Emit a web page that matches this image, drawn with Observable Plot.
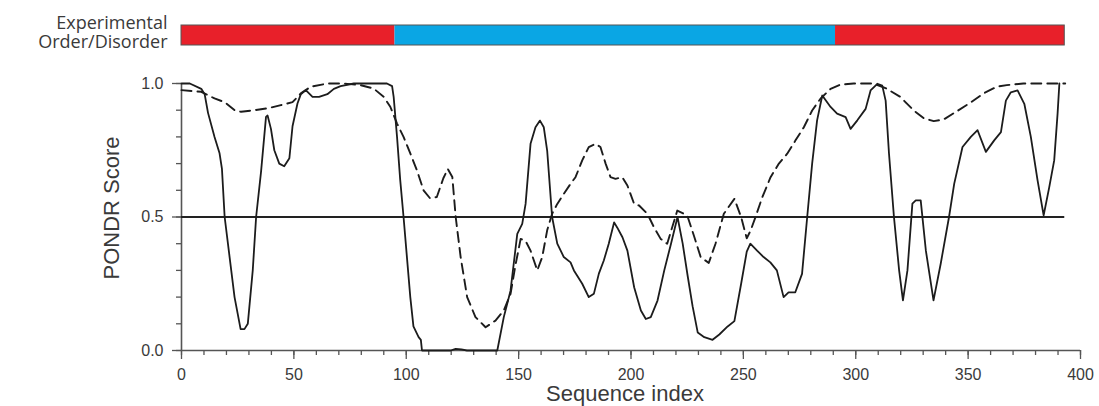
<!DOCTYPE html>
<html>
<head>
<meta charset="utf-8">
<script src="https://cdn.jsdelivr.net/npm/d3@7"></script>
<script src="https://cdn.jsdelivr.net/npm/@observablehq/plot@0.6"></script>
<style>
  body { margin: 0; background: #fff; }
  #chart svg { display: block; }
  g[aria-label="x-title"] text { letter-spacing: 1.2px; }
</style>
</head>
<body>
<div id="chart"></div>
<script>
// ---- Experimental order/disorder segments ----
const segStart = [0, 95, 291];
const segEnd   = [95, 291, 393];
const segState = ["Disorder", "Order", "Disorder"];
const stateLabel = "Experimental\nOrder/Disorder";

// ---- PONDR score series (solid line) ----
const solidIdx = [0,3.7,8.8,10.3,11.8,14.7,16.9,18,19.2,21.4,23.6,26.3,28,29.5,31.7,33.2,35.4,37.6,38.3,39.8,41.3,43.5,45.7,48,49.4,51.6,53.1,55.3,58.3,61.2,64.9,67.8,70.8,76.7,91.4,93.7,94.4,95.9,97.3,98.8,100.3,101.8,103.2,105.5,106.5,107,119.7,122,124.5,127,140.5,143.4,146.4,149.4,151.6,153.1,155.3,157.5,159.5,161.2,162.7,164.9,167.2,170.1,173.1,174.6,178.3,181.2,183.5,185.7,187.9,190.1,192.5,193.9,196.2,198.4,201.4,204.4,206.6,208.8,211.8,214.8,217.8,220.7,223,225.2,227.4,229.7,232.6,236.3,239.3,243,246,249,251.5,253.1,256.1,259,262,264.9,267.9,270.1,273.1,276.1,278.4,280.6,282.8,285.1,288.8,291.7,295.5,297.7,300.7,304.4,306.6,309.6,311.8,313.3,314.8,317,319.3,321,323,325.2,326.7,328.9,331.2,334.6,337.8,341.5,343.8,347.5,351.2,354.2,357.9,361.6,364.6,366.8,369,372,375,377.9,380.9,383.6,386.1,388.3,389.8,390.6];
const solidVal = [1.0,1.0,0.98,0.96,0.89,0.80,0.74,0.68,0.5,0.35,0.20,0.08,0.08,0.10,0.30,0.5,0.67,0.875,0.88,0.83,0.75,0.70,0.69,0.72,0.84,0.925,0.96,0.975,0.95,0.95,0.96,0.98,0.99,1.0,1.0,0.99,0.95,0.80,0.64,0.5,0.35,0.20,0.09,0.05,0.04,0.0,0.0,0.006,0.004,0.0,0.0,0.125,0.224,0.437,0.474,0.549,0.774,0.836,0.861,0.836,0.749,0.5,0.40,0.35,0.33,0.30,0.25,0.20,0.213,0.288,0.337,0.40,0.48,0.46,0.424,0.374,0.237,0.15,0.118,0.125,0.187,0.30,0.40,0.50,0.40,0.28,0.166,0.067,0.05,0.04,0.06,0.09,0.11,0.25,0.37,0.40,0.374,0.35,0.33,0.30,0.20,0.218,0.218,0.287,0.5,0.70,0.862,0.955,0.912,0.887,0.874,0.83,0.862,0.905,0.974,0.999,0.992,0.936,0.737,0.5,0.30,0.188,0.30,0.55,0.562,0.562,0.374,0.188,0.325,0.5,0.624,0.762,0.80,0.825,0.744,0.787,0.818,0.936,0.967,0.974,0.924,0.80,0.637,0.506,0.612,0.712,0.887,1.0];

// ---- PONDR score series (dashed line) ----
const dashIdx = [0,8.8,14.7,19.2,23.6,26.5,32.4,38.3,44.2,49.4,53.1,57.5,64.9,72.3,79.6,85.5,90,92.9,95.9,98.8,101.8,104.7,107.7,110.6,113.6,116.5,118.5,120.5,122,124.2,127.1,130.8,135.3,139.7,143.4,146.4,148.6,150.9,153.1,155.3,158.3,160.5,162.7,164.9,167.2,170.1,173.1,175.3,178.3,181.2,184.2,186.4,188.7,190.9,193.1,196.1,198.4,201.4,203.6,207.3,210.2,213.2,216.1,220.6,225,228,231,234.6,237.6,241.3,246,249,251.5,253.2,255.4,258.4,262.1,265.8,269.5,273.2,276.9,280.6,284.3,288.8,293.2,299.1,308,313.9,319.8,325.8,330.2,334.7,339.1,345,351,356.9,362.8,367.2,374.6,393.2];
const dashVal = [0.975,0.969,0.944,0.93,0.90,0.894,0.90,0.907,0.919,0.93,0.963,0.988,1.0,1.0,0.994,0.981,0.95,0.913,0.85,0.80,0.738,0.676,0.60,0.57,0.575,0.645,0.68,0.65,0.50,0.35,0.20,0.125,0.087,0.112,0.15,0.212,0.32,0.418,0.41,0.374,0.30,0.35,0.45,0.512,0.549,0.587,0.624,0.649,0.712,0.762,0.774,0.762,0.70,0.649,0.643,0.649,0.618,0.549,0.543,0.512,0.462,0.418,0.40,0.524,0.506,0.43,0.35,0.328,0.40,0.512,0.568,0.50,0.42,0.449,0.50,0.574,0.649,0.70,0.737,0.787,0.836,0.899,0.943,0.98,0.996,1.0,1.0,0.98,0.95,0.899,0.87,0.859,0.865,0.896,0.928,0.963,0.988,0.994,1.0,1.0];

// ---- axes ----
const threshold = [0.5];
const xMajor = [0, 50, 100, 150, 200, 250, 300, 350, 400];
const xMinor = d3.range(0, 401, 10);
const yMajor = [0, 0.5, 1.0];
const yMinor = d3.range(0, 1.001, 0.1);
const xTitle = "Sequence index";
const yTitle = "PONDR Score";

const seqLen = segEnd[segEnd.length - 1];
const segments = segStart.map((s, i) => ({start: s, end: segEnd[i], state: segState[i], row: stateLabel}));
const solid = solidIdx.map((x, i) => ({x, y: solidVal[i]}));
const dashed = dashIdx.map((x, i) => ({x, y: dashVal[i]}));

const W = 1099, ML = 181, MR = 19;
const tickFont = "'Liberation Sans', Arial, sans-serif";
const axisColor = "#555";
const textColor = "#3a3a3a";

// ---- top bar ----
const bar = Plot.plot({
  width: W, height: 55,
  marginLeft: ML, marginRight: MR, marginTop: 25, marginBottom: 10,
  x: {domain: [0, 400], axis: null},
  y: {domain: [stateLabel], axis: null, padding: 0},
  color: {domain: ["Disorder", "Order"], range: ["#e8202a", "#0aa6e4"]},
  marks: [
    Plot.barX(segments, {x1: "start", x2: "end", y: "row", fill: "state", inset: 0}),
    Plot.barX([{s: 0, e: seqLen, row: stateLabel}], {x1: "s", x2: "e", y: "row", fill: "none", stroke: "#555", strokeWidth: 1, inset: 0}),
    Plot.text([stateLabel], {frameAnchor: "left", textAnchor: "end", dx: -14, dy: -3, lineHeight: 1.05,
      fontSize: 18, fontFamily: "'Open Sans', 'Noto Sans', sans-serif", fill: textColor})
  ]
});

// ---- main chart ----
const main = Plot.plot({
  width: W, height: 351,
  marginLeft: ML, marginRight: MR, marginTop: 28, marginBottom: 56,
  x: {domain: [0, 400]},
  y: {domain: [0, 1]},
  style: {fontFamily: tickFont, color: textColor, background: "transparent"},
  marks: [
    Plot.axisX({ticks: xMinor, tickSize: 5, text: null, label: null, stroke: axisColor, strokeWidth: 1.3}),
    Plot.axisX({ticks: xMajor, tickSize: 9, tickPadding: 9, tickFormat: d => d, stroke: axisColor, strokeWidth: 1.3,
      fontSize: 16, fill: textColor, label: null}),
    Plot.axisY({ticks: yMinor, tickSize: 5, text: null, label: null, stroke: axisColor, strokeWidth: 1.3}),
    Plot.axisY({ticks: yMajor, tickSize: 9, tickPadding: 9, tickFormat: d3.format(".1f"), stroke: axisColor, strokeWidth: 1.3,
      fontSize: 16, fill: textColor, label: null}),
    Plot.ruleY([0], {stroke: axisColor, strokeWidth: 1.6}),
    Plot.ruleX([0], {stroke: axisColor, strokeWidth: 1.6}),
    Plot.ruleY(threshold, {x1: 0, x2: seqLen, stroke: "#222", strokeWidth: 1.8}),
    Plot.line(dashed, {x: "x", y: "y", stroke: "#1c1c1c", strokeWidth: 1.9, strokeDasharray: "10,6"}),
    Plot.line(solid, {x: "x", y: "y", stroke: "#1c1c1c", strokeWidth: 1.8}),
    Plot.text([xTitle], {frameAnchor: "bottom", textAnchor: "middle", dx: -6, dy: 50, fontSize: 22, fill: textColor, ariaLabel: "x-title"}),
    Plot.text([yTitle], {frameAnchor: "left", textAnchor: "middle", rotate: -90, dx: -70, dy: -9, fontSize: 22, fill: textColor})
  ]
});

const chart = document.getElementById("chart");
chart.appendChild(bar);
chart.appendChild(main);
</script>
</body>
</html>
